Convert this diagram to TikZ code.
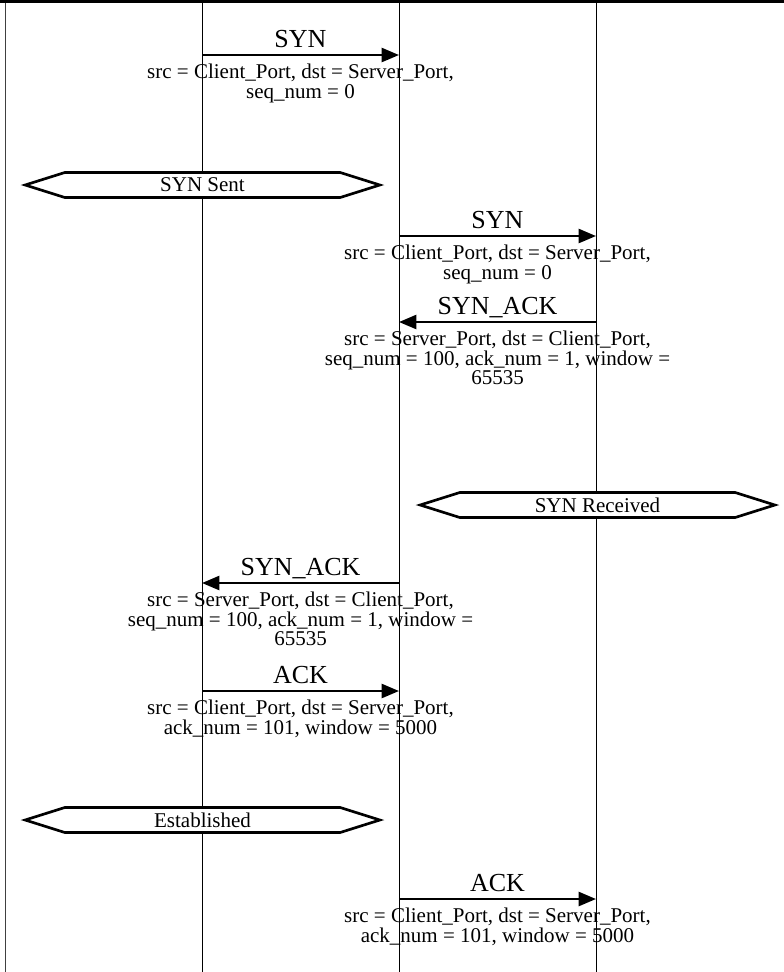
\documentclass[tikz,border=0pt]{standalone}
\usepackage{fontspec}
\setmainfont{Liberation Serif}
\usepackage{tikz}
\usetikzlibrary{arrows.meta, positioning, shapes.symbols}

\begin{document}
\begin{tikzpicture}[x=0.75pt,y=-0.75pt,
  lifeline/.style={black, line width=0.75pt},
  msgarrow/.style={line width=1.8pt, -{Triangle[length=13pt,width=10.5pt]}},
  msgname/.style={inner sep=0pt, anchor=base, font=\fontsize{19.5}{22}\selectfont},
  msgfields/.style={inner sep=0pt, anchor=north, align=center, font=\fontsize{15.75}{14.6}\selectfont},
  statebox/.style={draw, fill=white, line width=2pt, signal, signal to=east and west,
    signal pointer angle=35, minimum width=266pt, minimum height=18.75pt, inner sep=0pt,
    font=\fontsize{15.75}{17}\selectfont}]
  \path[use as bounding box] (0,0) rectangle (784,972);

  % frame and lifelines
  \draw[line width=2.5pt] (0,1.7) -- (784,1.7);
  \draw[black!75, line width=1.1pt] (5.5,3) -- (5.5,972);
  \foreach \x in {202,399,596}{
    \draw[lifeline] (\x,3) -- (\x,972);
  }

  % SYN, first hop
  \coordinate (m1a) at (202,55);
  \coordinate (m1b) at (399,55);
  \draw[msgarrow] (m1a) -- (m1b);
  \node[msgname] (n1) at (300.5,47) {SYN};
  \node[msgfields] (f1) at (300.5,64) {src = Client\_Port, dst = Server\_Port,\\seq\_num = 0};

  \node[statebox] (s1) at (202.5,185) {SYN Sent};

  % SYN, second hop
  \coordinate (m2a) at (399,236);
  \coordinate (m2b) at (596,236);
  \draw[msgarrow] (m2a) -- (m2b);
  \node[msgname] (n2) at (497.5,228) {SYN};
  \node[msgfields] (f2) at (497.5,245) {src = Client\_Port, dst = Server\_Port,\\seq\_num = 0};

  % SYN_ACK back
  \coordinate (m3a) at (596,322);
  \coordinate (m3b) at (399,322);
  \draw[msgarrow] (m3a) -- (m3b);
  \node[msgname] (n3) at (497.5,314) {SYN\_ACK};
  \node[msgfields] (f3) at (497.5,331) {src = Server\_Port, dst = Client\_Port,\\seq\_num = 100, ack\_num = 1, window =\\65535};

  \node[statebox] (s2) at (597.5,505) {SYN Received};

  \coordinate (m4a) at (399,583);
  \coordinate (m4b) at (202,583);
  \draw[msgarrow] (m4a) -- (m4b);
  \node[msgname] (n4) at (300.5,575) {SYN\_ACK};
  \node[msgfields] (f4) at (300.5,592) {src = Server\_Port, dst = Client\_Port,\\seq\_num = 100, ack\_num = 1, window =\\65535};

  % ACK
  \coordinate (m5a) at (202,691);
  \coordinate (m5b) at (399,691);
  \draw[msgarrow] (m5a) -- (m5b);
  \node[msgname] (n5) at (300.5,683) {ACK};
  \node[msgfields] (f5) at (300.5,700) {src = Client\_Port, dst = Server\_Port,\\ack\_num = 101, window = 5000};

  \node[statebox] (s3) at (202.5,820) {Established};

  \coordinate (m6a) at (399,899);
  \coordinate (m6b) at (596,899);
  \draw[msgarrow] (m6a) -- (m6b);
  \node[msgname] (n6) at (497.5,891) {ACK};
  \node[msgfields] (f6) at (497.5,908) {src = Client\_Port, dst = Server\_Port,\\ack\_num = 101, window = 5000};
\end{tikzpicture}
\end{document}
